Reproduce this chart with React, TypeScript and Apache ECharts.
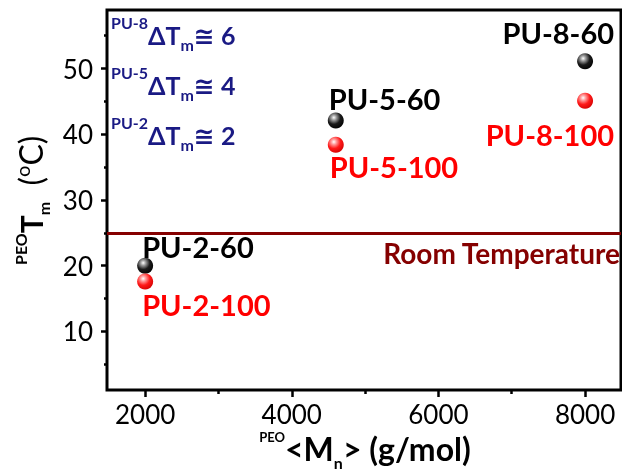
import React, { useEffect, useRef } from "react";
import * as echarts from "echarts";

// ---- data ----
const mnValues = [2000, 4600, 8000];
const tm60 = [20.0, 42.1, 51.1];
const tm100 = [17.6, 38.4, 45.1];
const names60 = ["PU-2-60", "PU-5-60", "PU-8-60"];
const names100 = ["PU-2-100", "PU-5-100", "PU-8-100"];
const roomTemp = 25;
const xTicks = [2000, 4000, 6000, 8000];
const xMinorTicks = [3000, 5000, 7000];
const yTicks = [10, 20, 30, 40, 50];
const yMinorTicks = [5, 15, 25, 35, 45, 55];
const deltaSamples = ["PU-8", "PU-5", "PU-2"];
const deltaValues = [6, 4, 2];

// ---- styles ----
const X_MIN = 1480, X_MAX = 8490, Y_MIN = 1.1, Y_MAX = 58.9;
const FONT = "Lato, 'DejaVu Sans', sans-serif";
const NAVY = "#1a1a84";
const MAROON = "#850000";
// label offsets relative to point centre: [dx, dy, align]
const off60: [number, number, string][] = [[-3, -19, "left"], [-7, -22, "left"], [29, -29, "right"]];
const off100: [number, number, string][] = [[-3, 23, "left"], [-6, 22, "left"], [29, 34, "right"]];
const SYM = 16;

const sphere = (hi: string, mid: string, dark: string) => ({
  type: "radial", x: 0.38, y: 0.32, r: 0.75,
  colorStops: [
    { offset: 0, color: "#ffffff" },
    { offset: 0.22, color: hi },
    { offset: 0.55, color: mid },
    { offset: 1, color: dark },
  ],
});

// rich style helper: token placed at top of line, centred within box of height h
const tok = (size: number, weight: string, color: string, h: number) => ({
  fontFamily: FONT, fontWeight: weight, fontSize: size, fill: color,
  verticalAlign: "top", height: h, lineHeight: h,
});

function buildData(vals: number[], names: string[], offs: [number, number, string][], color: string) {
  return vals.map((v, i) => ({
    value: [mnValues[i], v],
    name: names[i],
    label: {
      show: true,
      formatter: names[i],
      position: [offs[i][0] + SYM / 2, offs[i][1] + SYM / 2],
      align: offs[i][2],
      verticalAlign: "middle",
      color,
      opacity: 1,
      fontFamily: FONT,
      fontWeight: "bold",
      fontSize: 29,
    },
  }));
}

export default function App() {
  const ref = useRef<HTMLDivElement>(null);
  useEffect(() => {
    if (!ref.current) return;
    const chart = echarts.init(ref.current, null, { renderer: "svg" });
    const grid = { left: 107, top: 10, right: 1, bottom: 81, show: true, borderColor: "#000", borderWidth: 3 };
    const plain = (v: number) => String(v);
    const option: any = {
      animation: false,
      grid,
      xAxis: [
        {
          type: "value", min: X_MIN, max: X_MAX, position: "bottom",
          axisLine: { show: false },
          splitLine: { show: false },
          axisTick: { show: true, inside: false, length: 7, lineStyle: { color: "#000", width: 2.5 }, customValues: xTicks },
          axisLabel: { show: true, customValues: xTicks, formatter: plain, margin: 11, fontFamily: FONT, fontSize: 26, lineHeight: 26, color: "#000" },
        },
        {
          type: "value", min: X_MIN, max: X_MAX, position: "bottom",
          axisLine: { show: false },
          splitLine: { show: false },
          axisTick: { show: true, inside: false, length: 4, lineStyle: { color: "#000", width: 2.5 }, customValues: xMinorTicks },
          axisLabel: { show: false, customValues: xMinorTicks },
        },
      ],
      yAxis: [
        {
          type: "value", min: Y_MIN, max: Y_MAX, position: "left",
          axisLine: { show: false },
          splitLine: { show: false },
          axisTick: { show: true, inside: false, length: 6, lineStyle: { color: "#000", width: 2.5 }, customValues: yTicks },
          axisLabel: { show: true, customValues: yTicks, formatter: plain, margin: 14, fontFamily: FONT, fontSize: 26, color: "#000" },
        },
        {
          type: "value", min: Y_MIN, max: Y_MAX, position: "left",
          axisLine: { show: false },
          splitLine: { show: false },
          axisTick: { show: true, inside: false, length: 3, lineStyle: { color: "#000", width: 2.5 }, customValues: yMinorTicks },
          axisLabel: { show: false, customValues: yMinorTicks },
        },
      ],
      series: [
        {
          type: "scatter",
          symbol: "circle",
          symbolSize: SYM,
          itemStyle: { color: sphere("#9a9a9a", "#1a1a1a", "#000000"), opacity: 1 },
          data: buildData(tm60, names60, off60, "#000000"),
          z: 3,
          markLine: {
            silent: true,
            symbol: "none",
            data: [{ yAxis: roomTemp }],
            lineStyle: { color: MAROON, width: 3, type: "solid", opacity: 1 },
            label: {
              show: true,
              position: "insideEndBottom",
              formatter: "Room Temperature",
              color: MAROON,
              fontFamily: FONT,
              fontWeight: "bold",
              fontSize: 28,
              distance: [1, 6],
            },
          },
        },
        {
          type: "scatter",
          symbol: "circle",
          symbolSize: SYM,
          itemStyle: { color: sphere("#ff9a9a", "#ff1a1a", "#d00000"), opacity: 1 },
          data: buildData(tm100, names100, off100, "#ff0000"),
          z: 3,
        },
      ],
      graphic: [
        ...deltaSamples.map((s, i) => ({
          type: "text",
          x: 111,
          y: 10 + i * 50,
          style: {
            text: `{sup|${s}}{big|ΔT}{sub|m}{big|≅ ${deltaValues[i]}}`,
            align: "left",
            verticalAlign: "top",
            rich: {
              sup: tok(16, "bold", NAVY, 25),
              big: tok(25, "bold", NAVY, 49),
              sub: tok(16, "bold", NAVY, 69),
            },
          },
        })),
        {
          type: "text",
          x: 365,
          y: 427,
          style: {
            text: "{sup|PEO}{big|<M}{sub|n}{big|> (g/mol)}",
            align: "center",
            verticalAlign: "top",
            rich: {
              sup: tok(13, "bold", "#000", 20),
              big: tok(32, "bold", "#000", 42),
              sub: tok(16, "bold", "#000", 70),
            },
          },
        },
        {
          type: "text",
          x: 5,
          y: 265,
          rotation: Math.PI / 2,
          style: {
            text: "{sup|PEO}{big|T}{sub|m}{reg|  (}{supr|o}{reg|C)}",
            align: "left",
            verticalAlign: "top",
            rich: {
              sup: tok(16, "bold", "#000", 30),
              big: tok(30, "bold", "#000", 51),
              sub: tok(16, "bold", "#000", 76),
              reg: tok(32, "normal", "#000", 51),
              supr: tok(20, "normal", "#000", 34),
            },
          },
        },
      ],
    };
    chart.setOption(option);
    return () => chart.dispose();
  }, []);
  return <div ref={ref} style={{ position: "fixed", left: 0, top: 0, width: 622, height: 471 }} />;
}
